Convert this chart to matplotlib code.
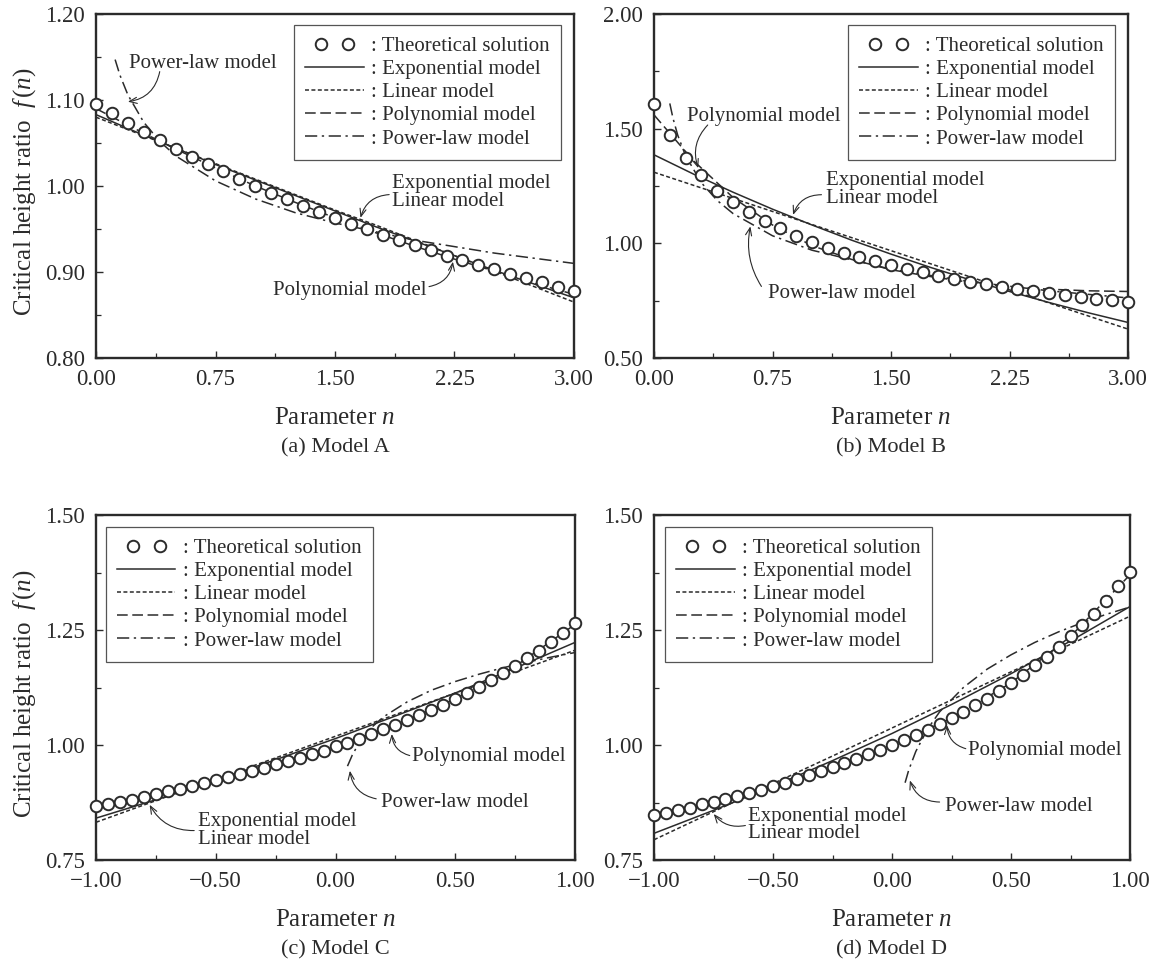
import numpy as np
import matplotlib
matplotlib.use('Agg')
import matplotlib.pyplot as plt
from matplotlib.lines import Line2D
from matplotlib.legend_handler import HandlerLine2D
from matplotlib.ticker import MultipleLocator

plt.rcParams['font.family'] = ['Liberation Serif', 'DejaVu Serif']
plt.rcParams['mathtext.fontset'] = 'custom'
plt.rcParams['mathtext.rm'] = 'Liberation Serif'
plt.rcParams['mathtext.it'] = 'Liberation Serif:italic'

INK = '#2b2b2b'

# ---- Model A -------------------------------------------------------------
a_n = [0.0, 0.1, 0.2, 0.3, 0.4, 0.5, 0.6, 0.7, 0.8, 0.9, 1.0, 1.1, 1.2, 1.3, 1.4, 1.5,
       1.6, 1.7, 1.8, 1.9, 2.0, 2.1, 2.2, 2.3, 2.4, 2.5, 2.6, 2.7, 2.8, 2.9, 3.0]
a_theory = [1.095, 1.085, 1.073, 1.063, 1.053, 1.043, 1.034, 1.025, 1.017, 1.008, 1.000,
            0.992, 0.985, 0.977, 0.970, 0.963, 0.956, 0.950, 0.943, 0.937, 0.931, 0.925,
            0.919, 0.914, 0.908, 0.903, 0.898, 0.893, 0.888, 0.883, 0.878]
a_line_n = [0.0, 0.25, 0.5, 0.75, 1.0, 1.25, 1.5, 1.75, 2.0, 2.25, 2.5, 2.75, 3.0]
a_exp = [1.083, 1.063, 1.044, 1.025, 1.007, 0.989, 0.971, 0.953, 0.936, 0.919, 0.902, 0.886, 0.870]
a_lin = [1.080, 1.062, 1.044, 1.026, 1.008, 0.990, 0.972, 0.955, 0.937, 0.919, 0.901, 0.883, 0.865]
a_poly = [1.090, 1.066, 1.043, 1.021, 1.000, 0.981, 0.963, 0.946, 0.930, 0.915, 0.901, 0.887, 0.874]
a_pow_n = [0.12, 0.15, 0.2, 0.3, 0.4, 0.5, 0.75, 1.0, 1.25, 1.5, 2.0, 2.5, 3.0]
a_pow = [1.147, 1.129, 1.106, 1.074, 1.052, 1.035, 1.006, 0.985, 0.969, 0.957, 0.937, 0.922, 0.910]

# ---- Model B -------------------------------------------------------------
b_n = a_n
b_theory = [1.607, 1.473, 1.370, 1.296, 1.230, 1.180, 1.136, 1.098, 1.065, 1.033, 1.005,
            0.981, 0.960, 0.940, 0.921, 0.904, 0.888, 0.873, 0.859, 0.846, 0.833, 0.823,
            0.811, 0.801, 0.792, 0.784, 0.775, 0.768, 0.759, 0.752, 0.743]
b_line_n = a_line_n
b_exp = [1.386, 1.302, 1.223, 1.149, 1.080, 1.014, 0.953, 0.895, 0.841, 0.790, 0.742, 0.697, 0.655]
b_lin = [1.310, 1.253, 1.196, 1.139, 1.082, 1.025, 0.968, 0.911, 0.854, 0.797, 0.740, 0.683, 0.626]
b_poly = [1.560, 1.360, 1.200, 1.080, 0.990, 0.930, 0.885, 0.855, 0.830, 0.812, 0.800, 0.793, 0.790]
b_pow_n = [0.1, 0.12, 0.15, 0.2, 0.3, 0.4, 0.5, 0.75, 1.0, 1.5, 2.0, 2.5, 3.0]
b_pow = [1.610, 1.546, 1.472, 1.382, 1.264, 1.187, 1.130, 1.033, 0.970, 0.887, 0.833, 0.793, 0.762]

# ---- Model C -------------------------------------------------------------
c_n = [-1.0, -0.95, -0.9, -0.85, -0.8, -0.75, -0.7, -0.65, -0.6, -0.55, -0.5, -0.45, -0.4,
       -0.35, -0.3, -0.25, -0.2, -0.15, -0.1, -0.05, 0.0, 0.05, 0.1, 0.15, 0.2, 0.25, 0.3,
       0.35, 0.4, 0.45, 0.5, 0.55, 0.6, 0.65, 0.7, 0.75, 0.8, 0.85, 0.9, 0.95, 1.0]
c_theory = [0.868, 0.872, 0.876, 0.881, 0.888, 0.894, 0.900, 0.905, 0.911, 0.917, 0.923,
            0.930, 0.936, 0.943, 0.950, 0.958, 0.965, 0.972, 0.981, 0.988, 0.997, 1.005,
            1.014, 1.024, 1.034, 1.044, 1.054, 1.065, 1.076, 1.088, 1.101, 1.113, 1.127,
            1.142, 1.156, 1.172, 1.189, 1.205, 1.224, 1.244, 1.265]
c_line_n = [-1.0, -0.75, -0.5, -0.25, 0.0, 0.25, 0.5, 0.75, 1.0]
c_exp = [0.841, 0.881, 0.923, 0.968, 1.014, 1.063, 1.113, 1.167, 1.223]
c_lin = [0.832, 0.879, 0.926, 0.972, 1.019, 1.066, 1.113, 1.159, 1.206]
c_poly = [0.866, 0.894, 0.923, 0.957, 0.997, 1.044, 1.100, 1.171, 1.262]
c_pow_n = [0.05, 0.07, 0.1, 0.15, 0.2, 0.3, 0.4, 0.5, 0.6, 0.7, 0.8, 0.9, 1.0]
c_pow = [0.954, 0.978, 1.006, 1.038, 1.061, 1.094, 1.119, 1.138, 1.154, 1.168, 1.180, 1.191, 1.201]

# ---- Model D -------------------------------------------------------------
d_n = c_n
d_theory = [0.848, 0.853, 0.858, 0.863, 0.871, 0.877, 0.882, 0.890, 0.896, 0.903, 0.910,
            0.918, 0.926, 0.934, 0.943, 0.952, 0.960, 0.970, 0.980, 0.990, 1.000, 1.010,
            1.021, 1.032, 1.045, 1.058, 1.072, 1.086, 1.101, 1.117, 1.135, 1.153, 1.173,
            1.192, 1.214, 1.236, 1.260, 1.285, 1.312, 1.345, 1.376]
d_line_n = c_line_n
d_exp = [0.808, 0.858, 0.910, 0.966, 1.025, 1.088, 1.155, 1.226, 1.301]
d_lin = [0.794, 0.855, 0.916, 0.976, 1.037, 1.098, 1.159, 1.219, 1.280]
d_poly = [0.850, 0.876, 0.910, 0.952, 1.000, 1.058, 1.135, 1.236, 1.370]
d_pow_n = [0.055, 0.07, 0.1, 0.15, 0.2, 0.3, 0.4, 0.5, 0.6, 0.7, 0.8, 0.9, 1.0]
d_pow = [0.918, 0.945, 0.986, 1.035, 1.072, 1.125, 1.165, 1.196, 1.223, 1.246, 1.266, 1.284, 1.300]

# tick labels
ab_xticks = [0.0, 0.75, 1.5, 2.25, 3.0]
ab_xlabels = ['0.00', '0.75', '1.50', '2.25', '3.00']
cd_xticks = [-1.0, -0.5, 0.0, 0.5, 1.0]
cd_xlabels = ['\u22121.00', '\u22120.50', '0.00', '0.50', '1.00']
a_yticks = [0.8, 0.9, 1.0, 1.1, 1.2]
a_ylabels = ['0.80', '0.90', '1.00', '1.10', '1.20']
b_yticks = [0.5, 1.0, 1.5, 2.0]
b_ylabels = ['0.50', '1.00', '1.50', '2.00']
cd_yticks = [0.75, 1.0, 1.25, 1.5]
cd_ylabels = ['0.75', '1.00', '1.25', '1.50']

legend_names = [': Theoretical solution', ': Exponential model', ': Linear model',
                ': Polynomial model', ': Power-law model']
captions = ['(a) Model A', '(b) Model B', '(c) Model C', '(d) Model D']

# line styles of the four fitted models
sty_exp = dict(color=INK, lw=1.1, ls='-')
sty_lin = dict(color=INK, lw=1.1, ls=(0, (2.6, 1.6)))
sty_poly = dict(color=INK, lw=1.1, ls=(0, (7, 3)))
sty_pow = dict(color=INK, lw=1.1, ls=(0, (8, 3, 1.5, 3)))
sty_dot = dict(ls='none', marker='o', ms=8.3, mfc='white', mec=INK, mew=1.4)

W, H = 1162, 963
fig = plt.figure(figsize=(W / 100, H / 100), dpi=100)


def px_axes(x0, x1, y0, y1):
    return fig.add_axes([x0 / W, 1 - y1 / H, (x1 - x0) / W, (y1 - y0) / H])


def draw(ax, n, theory, line_n, exp, lin, poly, pow_n, pw):
    ax.plot(line_n, exp, **sty_exp, zorder=2)
    ax.plot(line_n, lin, **sty_lin, zorder=2)
    ax.plot(line_n, poly, **sty_poly, zorder=2)
    ax.plot(pow_n, pw, **sty_pow, zorder=2)
    ax.plot(n, theory, **sty_dot, zorder=3, clip_on=False)


def style(ax, xlim, xt, xl, xminor, ylim, yt, yl, yminor):
    ax.set_xlim(xlim)
    ax.set_ylim(ylim)
    ax.set_xticks(xt)
    ax.set_xticklabels(xl)
    ax.set_yticks(yt)
    ax.set_yticklabels(yl)
    ax.xaxis.set_minor_locator(MultipleLocator(xminor))
    ax.yaxis.set_minor_locator(MultipleLocator(yminor))
    ax.tick_params(which='both', direction='in', color=INK, labelcolor=INK,
                   labelsize=16.5, top=False, right=False)
    ax.tick_params(which='major', length=5, width=1.0, pad=8)
    ax.tick_params(which='minor', length=3.5, width=0.9)
    for s in ax.spines.values():
        s.set_linewidth(1.7)
        s.set_color(INK)


def legend(ax, loc, anchor):
    handles = [Line2D([], [], **sty_dot), Line2D([], [], **sty_exp), Line2D([], [], **sty_lin),
               Line2D([], [], **sty_poly), Line2D([], [], **sty_pow)]
    lg = ax.legend(handles, legend_names, loc=loc, bbox_to_anchor=anchor, borderaxespad=0,
                   fontsize=15, handlelength=2.8, handletextpad=0.35, labelspacing=0.17,
                   borderpad=0.55, fancybox=False, framealpha=1, edgecolor='#555555',
                   handler_map={handles[0]: HandlerLine2D(numpoints=2, marker_pad=0.75)})
    lg.get_frame().set_linewidth(0.9)
    for t in lg.get_texts():
        t.set_color(INK)


def note(ax, label, txy, start, end, rad):
    ax.text(txy[0], txy[1], label, fontsize=15, color=INK, ha='left', va='center',
            linespacing=0.92, zorder=4)
    ax.annotate('', xy=end, xytext=start,
                arrowprops=dict(arrowstyle='->,head_length=0.55,head_width=0.22', lw=0.8,
                                color=INK, connectionstyle='arc3,rad=%s' % rad,
                                shrinkA=0, shrinkB=0))


axA = px_axes(96, 574, 14, 358)
axB = px_axes(654, 1128, 14, 358)
axC = px_axes(96, 575, 515, 860)
axD = px_axes(654, 1130, 515, 860)

draw(axA, a_n, a_theory, a_line_n, a_exp, a_lin, a_poly, a_pow_n, a_pow)
draw(axB, b_n, b_theory, b_line_n, b_exp, b_lin, b_poly, b_pow_n, b_pow)
draw(axC, c_n, c_theory, c_line_n, c_exp, c_lin, c_poly, c_pow_n, c_pow)
draw(axD, d_n, d_theory, d_line_n, d_exp, d_lin, d_poly, d_pow_n, d_pow)

style(axA, (0, 3), ab_xticks, ab_xlabels, 0.375, (0.8, 1.2), a_yticks, a_ylabels, 0.05)
style(axB, (0, 3), ab_xticks, ab_xlabels, 0.375, (0.5, 2.0), b_yticks, b_ylabels, 0.25)
style(axC, (-1, 1), cd_xticks, cd_xlabels, 0.25, (0.75, 1.5), cd_yticks, cd_ylabels, 0.125)
style(axD, (-1, 1), cd_xticks, cd_xlabels, 0.25, (0.75, 1.5), cd_yticks, cd_ylabels, 0.125)

legend(axA, 'upper right', (0.973, 0.968))
legend(axB, 'upper right', (0.973, 0.968))
legend(axC, 'upper left', (0.02, 0.965))
legend(axD, 'upper left', (0.023, 0.965))

# annotations
note(axA, 'Power-law model', (0.21, 1.143), (0.40, 1.133), (0.20, 1.098), -0.35)
note(axA, 'Exponential model\nLinear model', (1.86, 0.992), (1.84, 0.990), (1.66, 0.963), 0.35)
note(axA, 'Polynomial model', (1.11, 0.879), (2.09, 0.883), (2.24, 0.912), 0.35)

note(axB, 'Polynomial model', (0.21, 1.553), (0.34, 1.516), (0.28, 1.328), 0.3)
note(axB, 'Exponential model\nLinear model', (1.09, 1.233), (1.06, 1.212), (0.88, 1.124), 0.35)
note(axB, 'Power-law model', (0.72, 0.783), (0.68, 0.812), (0.61, 1.074), -0.2)

note(axC, 'Polynomial model', (0.32, 0.975), (0.31, 0.977), (0.235, 1.024), -0.35)
note(axC, 'Power-law model', (0.19, 0.875), (0.17, 0.883), (0.06, 0.944), -0.35)
note(axC, 'Exponential model\nLinear model', (-0.575, 0.815), (-0.59, 0.814), (-0.776, 0.870), -0.3)

note(axD, 'Polynomial model', (0.318, 0.987), (0.31, 0.992), (0.231, 1.043), -0.35)
note(axD, 'Power-law model', (0.224, 0.866), (0.20, 0.876), (0.075, 0.923), -0.35)
note(axD, 'Exponential model\nLinear model', (-0.605, 0.826), (-0.616, 0.825), (-0.749, 0.850), -0.3)

# axis titles and captions
for ax, cap in [(axA, captions[0]), (axB, captions[1]), (axC, captions[2]), (axD, captions[3])]:
    box = ax.get_position()
    xc = box.x0 + box.width / 2
    bottom_px = (1 - box.y0) * H
    fig.text(xc, 1 - (bottom_px + 60) / H, r'Parameter $n$', fontsize=18, color=INK,
             ha='center', va='center')
    fig.text(xc, 1 - (bottom_px + 90) / H, cap, fontsize=16, color=INK, ha='center', va='center')

for ax in [axA, axC]:
    box = ax.get_position()
    fig.text(25 / W, box.y0 + box.height / 2 - 6 / H, r'Critical height ratio  $f\,(n)$',
             fontsize=18, color=INK, rotation=90, ha='center', va='center')

fig.savefig('out.png', dpi=100, facecolor='white')
